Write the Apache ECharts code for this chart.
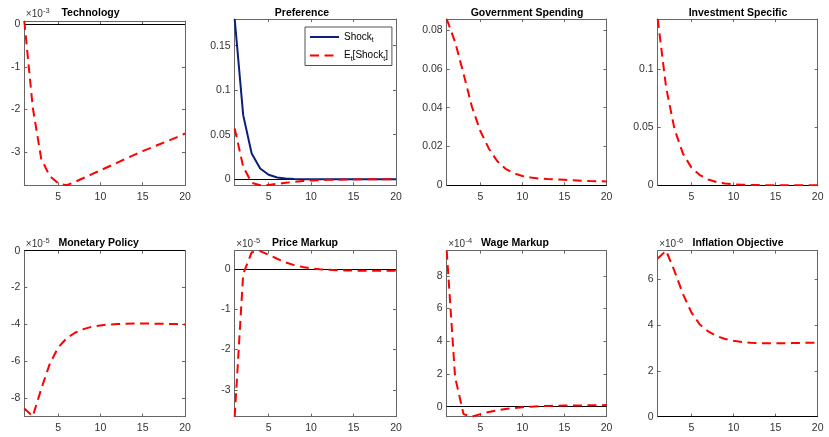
<!DOCTYPE html>
<html>
<head>
<meta charset="utf-8" />
<script src="https://cdn.jsdelivr.net/npm/echarts@6.0.0/dist/echarts.min.js"></script>
<style>
    body { margin: 0; background: #fff; }
    #main { width: 829px; height: 437px; }
</style>
</head>
<body>
<div id="main"></div>
<script type="text/javascript">
    // horizon (quarters)
    var steps = [1, 2, 3, 4, 5, 6, 7, 8, 9, 10, 11, 12, 13, 14, 15, 16, 17, 18, 19, 20];

    // E_t[Shock_t], in the units of each panel's tick labels (x 10^exponent)
    var technology = [0.07, -1.95, -3.15, -3.55, -3.72, -3.77, -3.69, -3.60, -3.51, -3.42, -3.33, -3.24, -3.15, -3.06, -2.97, -2.89, -2.81, -2.73, -2.65, -2.56];
    var preference = [0.057, 0.014, -0.004, -0.0068, -0.0064, -0.0052, -0.004, -0.003, -0.002, -0.0014, -0.001, -0.0007, -0.0005, -0.0003, -0.0002, -0.0001, -0.0001, 0, 0, 0];
    var preferenceShock = [0.18, 0.072, 0.029, 0.012, 0.005, 0.002, 0.0008, 0.0003, 0.0001, 0, 0, 0, 0, 0, 0, 0, 0, 0, 0, 0];
    var government = [0.0857, 0.0738, 0.0575, 0.0405, 0.028, 0.019, 0.0125, 0.0085, 0.0062, 0.0048, 0.004, 0.0035, 0.0032, 0.003, 0.0028, 0.0026, 0.0024, 0.0022, 0.0021, 0.002];
    var investment = [0.143, 0.084, 0.048, 0.027, 0.015, 0.0085, 0.0047, 0.0025, 0.0013, 0.0006, 0.0002, 0, -0.0001, -0.0002, -0.0002, -0.0002, -0.0002, -0.0002, -0.0002, -0.0002];
    var monetary = [-8.55, -8.98, -7.5, -6.15, -5.25, -4.75, -4.45, -4.25, -4.12, -4.05, -4.0, -3.98, -3.96, -3.95, -3.95, -3.95, -3.96, -3.97, -3.98, -4.0];
    var priceMarkup = [-3.67, -0.12, 0.42, 0.45, 0.36, 0.26, 0.17, 0.1, 0.055, 0.02, 0.0, -0.015, -0.025, -0.03, -0.035, -0.04, -0.04, -0.04, -0.04, -0.04];
    var wageMarkup = [9.54, 1.8, -0.45, -0.61, -0.45, -0.32, -0.22, -0.14, -0.08, -0.03, 0.0, 0.03, 0.05, 0.06, 0.07, 0.08, 0.08, 0.09, 0.09, 0.1];
    var inflationObj = [6.9, 7.24, 6.35, 5.35, 4.55, 4.02, 3.72, 3.52, 3.39, 3.31, 3.26, 3.23, 3.21, 3.2, 3.2, 3.2, 3.21, 3.22, 3.22, 3.23];

    var titles = ['Technology', 'Preference', 'Government Spending', 'Investment Specific',
                  'Monetary Policy', 'Price Markup', 'Wage Markup', 'Inflation Objective'];
    var exponents = ['-3', '', '', '', '-5', '-5', '-4', '-6'];
    var xTicks = [5, 10, 15, 20];
    var yTicks = [[-3, -2, -1, 0], [0, 0.05, 0.1, 0.15], [0, 0.02, 0.04, 0.06, 0.08], [0, 0.05, 0.1],
                  [-8, -6, -4, -2, 0], [-3, -2, -1, 0], [0, 2, 4, 6, 8], [0, 2, 4, 6]];
    var yMin = [-3.77, -0.0068, 0, -0.0003, -9.0, -3.67, -0.61, 0];
    var yMax = [0.07, 0.18, 0.0857, 0.143, 0, 0.46, 9.54, 7.24];

    var expected = [technology, preference, government, investment, monetary, priceMarkup, wageMarkup, inflationObj];

    // subplot boxes
    var colLeft = [24.3, 234.7, 446.7, 657.7];
    var colRight = [185, 396, 606.5, 817.7];
    var rowTop = [19, 250.7];
    var rowBottom = [185.3, 416.7];
    var titleX = [90.5, 302, 527, 738, 98.7, 305, 515, 738];
    var titleY = [12.8, 243.5];

    var font = 'Liberation Sans, Arial, sans-serif';
    var frameColor = '#666';
    var labelColor = '#333';

    function pairs(arr) {
        return steps.map(function (t, i) { return [t, arr[i]]; });
    }

    function buildOption() {
        var grids = [], xAxes = [], yAxes = [], series = [], graphics = [];
        for (var i = 0; i < 8; i++) {
            var c = i % 4, r = Math.floor(i / 4);
            var boxTop = (i === 0) ? 21 : rowTop[r];
            grids.push({
                left: colLeft[c], top: boxTop,
                width: colRight[c] - colLeft[c], height: rowBottom[r] - boxTop,
                outerBoundsMode: 'none', containLabel: false
            });
            ['bottom', 'top'].forEach(function (pos) {
                xAxes.push({
                    gridIndex: i, type: 'value', min: 1, max: 20, position: pos,
                    axisLine: { show: true, onZero: false, lineStyle: { color: frameColor, width: 1 } },
                    axisTick: { show: true, inside: true, length: 3, customValues: xTicks, lineStyle: { color: frameColor } },
                    axisLabel: { show: pos === 'bottom', customValues: xTicks, margin: 6, fontSize: 10.5, color: labelColor, fontFamily: font },
                    splitLine: { show: false }
                });
            });
            ['left', 'right'].forEach(function (pos) {
                yAxes.push({
                    gridIndex: i, type: 'value', min: yMin[i], max: yMax[i], position: pos,
                    axisLine: { show: true, onZero: false, lineStyle: { color: frameColor, width: 1 } },
                    axisTick: { show: true, inside: true, length: 3, customValues: yTicks[i], lineStyle: { color: frameColor } },
                    axisLabel: { show: pos === 'left', customValues: yTicks[i], margin: 4, fontSize: 10.5, color: labelColor, fontFamily: font },
                    splitLine: { show: false }
                });
            });

            if (i === 1) {
                series.push({
                    name: 'shock', type: 'line', xAxisIndex: 2 * i, yAxisIndex: 2 * i,
                    data: pairs(preferenceShock), symbol: 'none', z: 3,
                    lineStyle: { color: '#0c1f78', width: 2 }, itemStyle: { color: '#0c1f78' }
                });
            }
            series.push({
                name: 'expected', type: 'line', xAxisIndex: 2 * i, yAxisIndex: 2 * i,
                data: pairs(expected[i]), symbol: 'none', z: 4,
                lineStyle: { color: '#ff0000', width: 2, type: [9, 5.5] }, itemStyle: { color: '#ff0000' },
                markLine: {
                    silent: true, symbol: ['none', 'none'], animation: false, z: 1,
                    label: { show: false },
                    lineStyle: { color: '#000', width: 1, type: 'solid' },
                    data: [{ yAxis: 0 }]
                }
            });

            graphics.push({
                type: 'text', x: titleX[i], y: titleY[r],
                style: { text: titles[i], font: 'bold 10.5px ' + font, fill: '#000', textAlign: 'center', textVerticalAlign: 'middle' }
            });
            if (exponents[i]) {
                var ey = r === 0 ? 14 : 244.5;
                graphics.push({
                    type: 'text', x: colLeft[c] + 1.5, y: ey,
                    style: { text: '\u00d710', font: '10px ' + font, fill: labelColor, textAlign: 'left', textVerticalAlign: 'middle' }
                });
                graphics.push({
                    type: 'text', x: colLeft[c] + 18.7, y: ey - 3.3,
                    style: { text: exponents[i], font: '7.5px ' + font, fill: labelColor, textAlign: 'left', textVerticalAlign: 'middle' }
                });
            }
        }

        return {
            animation: false,
            backgroundColor: '#fff',
            grid: grids,
            xAxis: xAxes,
            yAxis: yAxes,
            legend: {
                data: ['shock', 'expected'],
                orient: 'vertical', left: 305, top: 27,
                itemWidth: 29, itemHeight: 12, itemGap: 6.5,
                padding: [5, 4, 3, 4],
                borderColor: '#262626', borderWidth: 0.8, backgroundColor: '#fff',
                itemStyle: { opacity: 0, borderWidth: 0 },
                formatter: function (name) {
                    return name === 'shock' ? '{n|Shock}{s|t}' : '{n|E}{s|t}{n|[Shock}{s|t}{n|]}';
                },
                textStyle: {
                    rich: {
                        n: { fontSize: 10, lineHeight: 14, color: '#000', fontFamily: font },
                        s: { fontSize: 7, lineHeight: 8, verticalAlign: 'bottom', color: '#000', fontFamily: font }
                    }
                }
            },
            graphic: graphics,
            series: series
        };
    }

    var chart = echarts.init(document.getElementById('main'));
    chart.setOption(buildOption());
</script>
</body>
</html>
